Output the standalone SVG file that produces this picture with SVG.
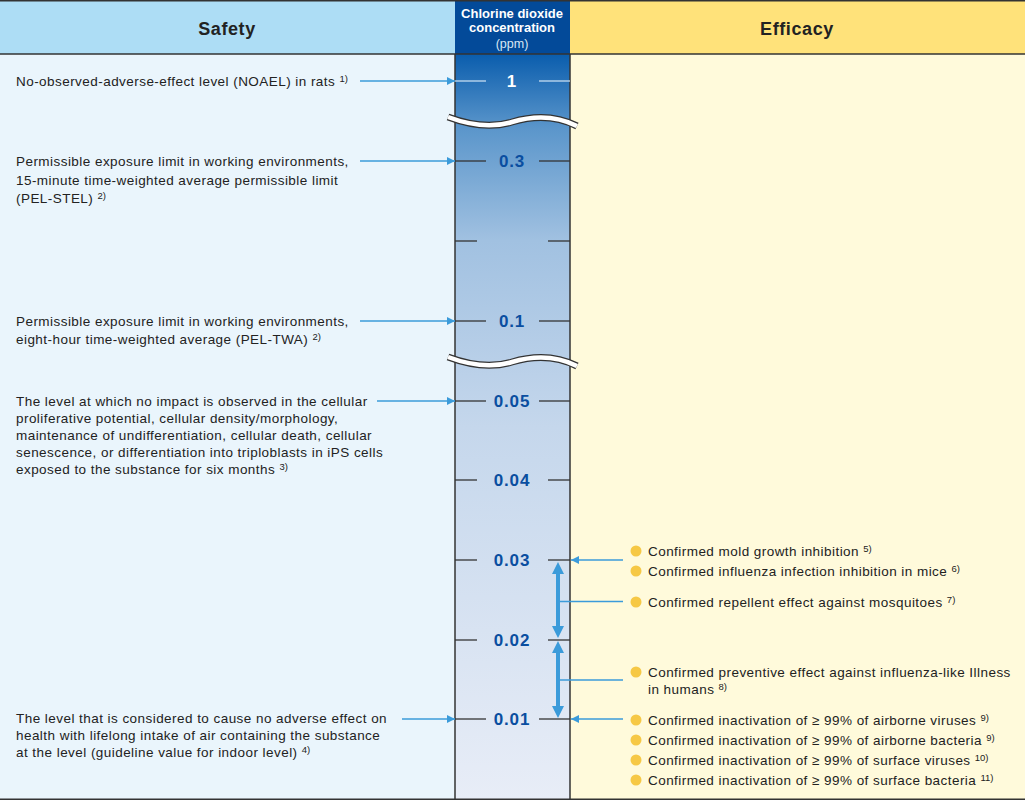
<svg xmlns="http://www.w3.org/2000/svg" width="1025" height="800" viewBox="0 0 1025 800">
<defs>
<linearGradient id="mid" x1="0" y1="54" x2="0" y2="800" gradientUnits="userSpaceOnUse">
<stop offset="0" stop-color="#0A5DAD"/>
<stop offset="0.1" stop-color="#5B96CB"/>
<stop offset="0.25" stop-color="#A1C1E1"/>
<stop offset="0.5" stop-color="#C5D7EC"/>
<stop offset="1" stop-color="#E8EDF7"/>
</linearGradient>
<marker id="ah" viewBox="0 0 10 10" refX="10" refY="5" markerWidth="9" markerHeight="8" markerUnits="userSpaceOnUse" orient="auto">
<path d="M0,0 L10,5 L0,10 Z" fill="#3B9BDA"/>
</marker>
</defs>
<style>
text{font-family:"Liberation Sans",Arial,sans-serif;}
.t{font-size:13.5px;letter-spacing:0.45px;fill:#222;}
.s{font-size:9.5px;letter-spacing:0;}
.hd{font-size:18px;font-weight:bold;fill:#222;letter-spacing:0.6px;}
.num{font-size:17px;font-weight:bold;fill:#0A4EA0;text-anchor:middle;letter-spacing:0.8px;}
.tick{stroke:#333;stroke-width:1.3;}
.wtick{stroke:#C6DDF2;stroke-width:1.3;}
.arr{stroke:#3B9BDA;stroke-width:1.5;fill:none;}
.dbl{stroke:#3B9BDA;stroke-width:4;fill:none;}
.dot{fill:#F6C845;}
.brd{stroke:#333;stroke-width:1.5;}
</style>
<g id="background">
<rect x="0" y="0" width="455" height="54" fill="#ADDDF5"/>
<rect x="0" y="54" width="455" height="746" fill="#EAF5FC"/>
<rect x="455" y="0" width="115" height="54" fill="#034A99"/>
<rect x="455" y="54" width="115" height="746" fill="url(#mid)"/>
<rect x="570" y="0" width="455" height="54" fill="#FFE27A"/>
<rect x="570" y="54" width="455" height="746" fill="#FFFADB"/>
<line class="brd" x1="0" y1="0.75" x2="1025" y2="0.75"/>
<line class="brd" x1="0" y1="54" x2="1025" y2="54"/>
<line class="brd" x1="0" y1="799.25" x2="1025" y2="799.25"/>
<line class="brd" x1="455" y1="54" x2="455" y2="800"/>
<line class="brd" x1="570" y1="54" x2="570" y2="800"/>
</g>
<g id="header-safety"><text class="hd" x="227" y="35" text-anchor="middle">Safety</text></g>
<g id="header-efficacy"><text class="hd" x="797" y="35" text-anchor="middle">Efficacy</text></g>
<g id="header-concentration">
<text x="512" y="18" text-anchor="middle" style="font-size:13px;font-weight:bold;fill:#fff">Chlorine dioxide</text>
<text x="512" y="32" text-anchor="middle" style="font-size:13px;font-weight:bold;fill:#fff">concentration</text>
<text x="512" y="48" text-anchor="middle" style="font-size:12.5px;fill:#D8E6F4">(ppm)</text>
</g>
<g id="scale">
<line class="wtick" x1="455" y1="81" x2="486" y2="81"/><line class="wtick" x1="539" y1="81" x2="570" y2="81"/>
<text class="num" x="512" y="87" style="fill:#fff">1</text>
<line class="tick" x1="455" y1="161" x2="486" y2="161"/><line class="tick" x1="539" y1="161" x2="570" y2="161"/>
<text class="num" x="512" y="167">0.3</text>
<line class="tick" x1="455" y1="241" x2="477" y2="241"/><line class="tick" x1="548" y1="241" x2="570" y2="241"/>
<line class="tick" x1="455" y1="321" x2="486" y2="321"/><line class="tick" x1="539" y1="321" x2="570" y2="321"/>
<text class="num" x="512" y="327">0.1</text>
<line class="tick" x1="455" y1="401" x2="486" y2="401"/><line class="tick" x1="539" y1="401" x2="570" y2="401"/>
<text class="num" x="512" y="407">0.05</text>
<line class="tick" x1="455" y1="480" x2="477" y2="480"/><line class="tick" x1="548" y1="480" x2="570" y2="480"/>
<text class="num" x="512" y="486">0.04</text>
<line class="tick" x1="455" y1="560" x2="477" y2="560"/><line class="tick" x1="548" y1="560" x2="570" y2="560"/>
<text class="num" x="512" y="566">0.03</text>
<line class="tick" x1="455" y1="640" x2="477" y2="640"/><line class="tick" x1="548" y1="640" x2="570" y2="640"/>
<text class="num" x="512" y="646">0.02</text>
<line class="tick" x1="455" y1="719" x2="486" y2="719"/><line class="tick" x1="539" y1="719" x2="570" y2="719"/>
<text class="num" x="512" y="725">0.01</text>
</g>
<g id="breaks">
<path d="M448,117 C472,126 492,128 512,122 C532,116 555,115 577,126" fill="none" stroke="#333" stroke-width="7"/>
<path d="M448,117 C472,126 492,128 512,122 C532,116 555,115 577,126" fill="none" stroke="#fff" stroke-width="4.5"/>
<path d="M448,357 C472,366 492,368 512,362 C532,356 555,355 577,366" fill="none" stroke="#333" stroke-width="7"/>
<path d="M448,357 C472,366 492,368 512,362 C532,356 555,355 577,366" fill="none" stroke="#fff" stroke-width="4.5"/>
</g>
<g id="connectors">
<line class="arr" x1="360" y1="81" x2="455" y2="81" marker-end="url(#ah)"/>
<line class="arr" x1="360" y1="161" x2="455" y2="161" marker-end="url(#ah)"/>
<line class="arr" x1="360" y1="321" x2="455" y2="321" marker-end="url(#ah)"/>
<line class="arr" x1="377" y1="401" x2="455" y2="401" marker-end="url(#ah)"/>
<line class="arr" x1="402" y1="719" x2="455" y2="719" marker-end="url(#ah)"/>
<line class="arr" x1="623" y1="560" x2="571" y2="560" marker-end="url(#ah)"/>
<line class="arr" x1="623" y1="719" x2="571" y2="719" marker-end="url(#ah)"/>
<line class="dbl" x1="558" y1="574" x2="558" y2="626"/>
<path d="M558,562 L564,574 L552,574 Z M558,638 L564,626 L552,626 Z" fill="#3B9BDA"/>
<line class="dbl" x1="558" y1="653" x2="558" y2="706"/>
<path d="M558,641 L564,653 L552,653 Z M558,718 L564,706 L552,706 Z" fill="#3B9BDA"/>
<line class="arr" x1="560" y1="601.5" x2="623" y2="601.5"/>
<line class="arr" x1="560" y1="680" x2="623" y2="680"/>
</g>
<g id="safety-noael"><text class="t" x="16" y="86">No-observed-adverse-effect level (NOAEL) in rats <tspan class="s" dy="-4">1)</tspan></text></g>
<g id="safety-pel-stel">
<text class="t" x="16" y="166">Permissible exposure limit in working environments,</text>
<text class="t" x="16" y="185">15-minute time-weighted average permissible limit</text>
<text class="t" x="16" y="203">(PEL-STEL) <tspan class="s" dy="-4">2)</tspan></text>
</g>
<g id="safety-pel-twa">
<text class="t" x="16" y="326">Permissible exposure limit in working environments,</text>
<text class="t" x="16" y="344">eight-hour time-weighted average (PEL-TWA) <tspan class="s" dy="-4">2)</tspan></text>
</g>
<g id="safety-ips">
<text class="t" x="16" y="406">The level at which no impact is observed in the cellular</text>
<text class="t" x="16" y="423">proliferative potential, cellular density/morphology,</text>
<text class="t" x="16" y="440">maintenance of undifferentiation, cellular death, cellular</text>
<text class="t" x="16" y="457">senescence, or differentiation into triploblasts in iPS cells</text>
<text class="t" x="16" y="474">exposed to the substance for six months <tspan class="s" dy="-4">3)</tspan></text>
</g>
<g id="safety-guideline">
<text class="t" x="16" y="723">The level that is considered to cause no adverse effect on</text>
<text class="t" x="16" y="740">health with lifelong intake of air containing the substance</text>
<text class="t" x="16" y="757">at the level (guideline value for indoor level) <tspan class="s" dy="-4">4)</tspan></text>
</g>
<g id="efficacy-mold"><circle class="dot" cx="636" cy="551" r="5.5"/><text class="t" x="648" y="556">Confirmed mold growth inhibition <tspan class="s" dy="-4">5)</tspan></text></g>
<g id="efficacy-mice"><circle class="dot" cx="636" cy="571" r="5.5"/><text class="t" x="648" y="576">Confirmed influenza infection inhibition in mice <tspan class="s" dy="-4">6)</tspan></text></g>
<g id="efficacy-mosquito"><circle class="dot" cx="636" cy="602" r="5.5"/><text class="t" x="648" y="607">Confirmed repellent effect against mosquitoes <tspan class="s" dy="-4">7)</tspan></text></g>
<g id="efficacy-ili"><circle class="dot" cx="636" cy="672" r="5.5"/>
<text class="t" x="648" y="677">Confirmed preventive effect against influenza-like Illness</text>
<text class="t" x="648" y="694">in humans <tspan class="s" dy="-4">8)</tspan></text></g>
<g id="efficacy-airborne-virus"><circle class="dot" cx="636" cy="720" r="5.5"/><text class="t" x="648" y="725">Confirmed inactivation of ≥ 99% of airborne viruses <tspan class="s" dy="-4">9)</tspan></text></g>
<g id="efficacy-airborne-bacteria"><circle class="dot" cx="636" cy="740" r="5.5"/><text class="t" x="648" y="745">Confirmed inactivation of ≥ 99% of airborne bacteria <tspan class="s" dy="-4">9)</tspan></text></g>
<g id="efficacy-surface-virus"><circle class="dot" cx="636" cy="760" r="5.5"/><text class="t" x="648" y="765">Confirmed inactivation of ≥ 99% of surface viruses <tspan class="s" dy="-4">10)</tspan></text></g>
<g id="efficacy-surface-bacteria"><circle class="dot" cx="636" cy="780" r="5.5"/><text class="t" x="648" y="785">Confirmed inactivation of ≥ 99% of surface bacteria <tspan class="s" dy="-4">11)</tspan></text></g>
</svg>
